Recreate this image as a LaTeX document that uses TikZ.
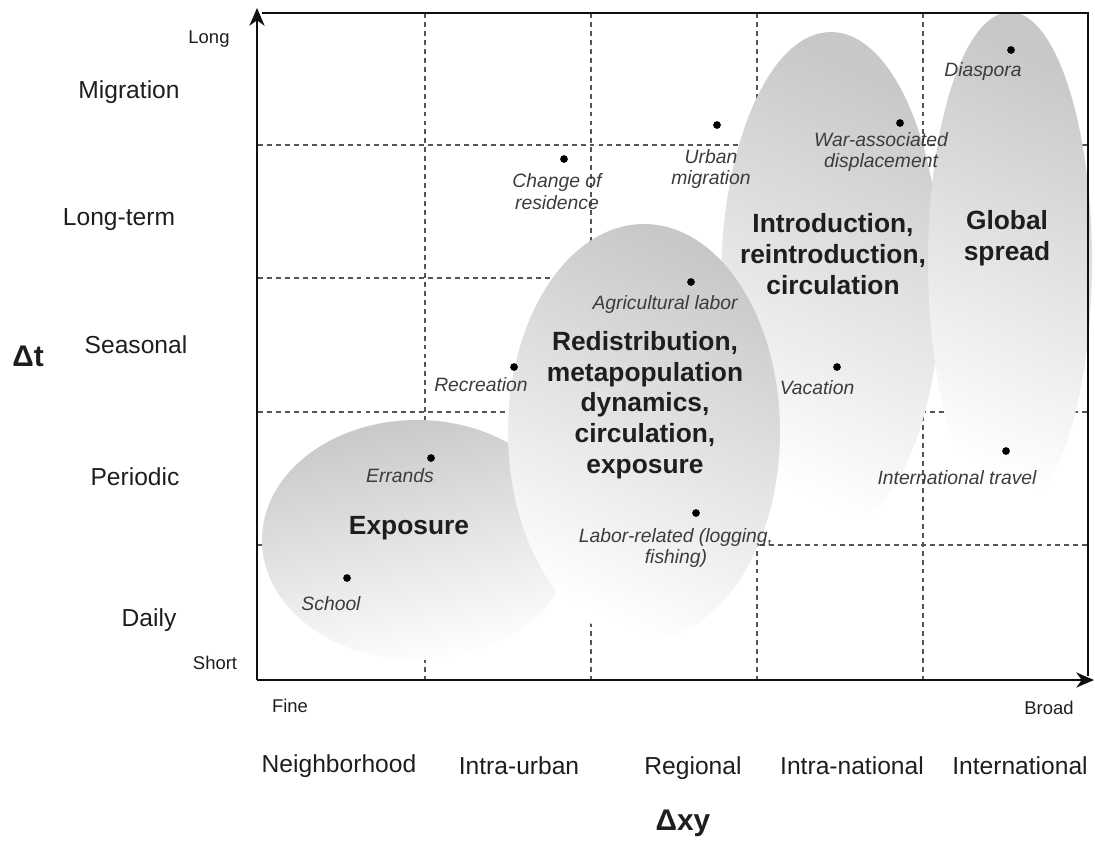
\documentclass[tikz,border=0pt]{standalone}
\usepackage{fontspec}
\setmainfont{Liberation Sans}
\usetikzlibrary{arrows.meta}
\definecolor{axisBlack}{RGB}{15,15,15}
\definecolor{gridGray}{RGB}{85,85,85}
\definecolor{blobGray}{RGB}{200,200,200}
\definecolor{blobMid}{RGB}{224,224,224}
\definecolor{tagGray}{RGB}{60,60,60}
\definecolor{textDark}{RGB}{30,30,30}

\begin{document}
\begin{tikzpicture}[x=0.02cm, y=0.02cm,
    blob/.style={shading=axis, top color=blobGray, middle color=blobMid, bottom color=white, shading angle=-25},
    spot/.style={circle, fill=black, inner sep=0pt, minimum size=4.4pt},
    tag/.style={font=\fontsize{11}{12.5}\selectfont\itshape, text=tagGray, align=center, inner sep=0pt},
    theme/.style={font=\fontsize{15}{17.5}\selectfont\bfseries, text=textDark, align=center, inner sep=0pt},
    scalelabel/.style={font=\fontsize{14}{16}\selectfont, text=textDark, inner sep=0pt},
    endlabel/.style={font=\fontsize{10.5}{12}\selectfont, text=textDark, inner sep=0pt},
    griddash/.style={gridGray, line width=0.8pt, dash pattern=on 2.8pt off 2.3pt},
    axisline/.style={axisBlack, line width=1.6pt, -{Stealth[length=10pt, width=8.5pt, inset=3pt]}}]
    \useasboundingbox (0,0) rectangle (1095,-840);

    % grid
    \foreach \gx in {425,591,757,923} \draw[griddash] (\gx,-13) -- (\gx,-680);
    \foreach \gy in {145,278,412,545} \draw[griddash] (258,-\gy) -- (1088,-\gy);

    % regions
    \path[blob] (831,-282) ellipse [x radius=110, y radius=250];
    \path[blob] (1010,-262) ellipse [x radius=82, y radius=250];
    \path[blob, shading angle=12] (417,-540) ellipse [x radius=155, y radius=120];
    \path[blob] (644,-432) ellipse [x radius=136, y radius=208];

    % frame and axes
    \coordinate (o) at (257,-680);
    \coordinate (ytop) at (257,-8);
    \coordinate (xend) at (1094,-680);
    \coordinate (tl) at (262,-13);
    \coordinate (tr) at (1088,-13);
    \coordinate (br) at (1088,-676);
    \draw[axisBlack, line width=1.1pt] (tl) -- (tr) -- (br);
    \draw[axisline] (o) -- (ytop);
    \draw[axisline] (o) -- (xend);

    % events
    \node[spot] (s1) at (564,-159) {};
    \node[tag] (t1) at (557,-192) {Change of\\residence};
    \node[spot] (s2) at (717,-125) {};
    \node[tag] (t2) at (711,-169) {Urban\\migration};
    \node[spot] (s3) at (900,-123) {};
    \node[tag] (t3) at (881,-152) {War-associated\\displacement};
    \node[spot] (s4) at (1011,-50) {};
    \node[tag] (t4) at (983,-71) {Diaspora};
    \node[spot] (s5) at (691,-282) {};
    \node[tag] (t5) at (665,-304) {Agricultural labor};
    \node[spot] (s6) at (514,-367) {};
    \node[tag] (t6) at (481,-385) {Recreation};
    \node[spot] (s7) at (837,-367) {};
    \node[tag] (t7) at (817,-388) {Vacation};
    \node[spot] (s8) at (431,-458) {};
    \node[tag] (t8) at (400,-476) {Errands};
    \node[spot] (s9) at (1006,-451) {};
    \node[tag] (t9) at (957,-478) {International travel};
    \node[spot] (s10) at (696,-513) {};
    \node[tag] (t10) at (676,-548) {Labor-related (logging,\\fishing)};
    \node[spot] (s11) at (347,-578) {};
    \node[tag] (t11) at (331,-604) {School};

    % themes
    \node[theme] (expo) at (409,-528) {Exposure};
    \node[theme] (redis) at (645,-405) {Redistribution,\\metapopulation\\dynamics,\\circulation,\\exposure};
    \node[theme] (intro) at (833,-254) {Introduction,\\reintroduction,\\circulation};
    \node[theme] (glob) at (1007,-238) {Global\\spread};

    % time scale
    \node[scalelabel] (migr) at (129,-92) {Migration};
    \node[scalelabel] (lterm) at (119,-220) {Long-term};
    \node[scalelabel] (seas) at (136,-345) {Seasonal};
    \node[scalelabel] (peri) at (135,-477) {Periodic};
    \node[scalelabel] (daily) at (149,-620) {Daily};
    \node[endlabel] (long) at (209,-39) {Long};
    \node[endlabel] (short) at (215,-663) {Short};
    \node[font=\fontsize{17}{19}\selectfont\bfseries, text=textDark, inner sep=0pt] (dt) at (28,-356) {Δt};

    % space scale
    \node[endlabel] (fine) at (290,-706) {Fine};
    \node[endlabel] (broad) at (1049,-708) {Broad};
    \node[scalelabel] (nbh) at (339,-766) {Neighborhood};
    \node[scalelabel] (iurb) at (519,-766) {Intra-urban};
    \node[scalelabel] (regi) at (693,-768) {Regional};
    \node[scalelabel] (inat) at (852,-766) {Intra-national};
    \node[scalelabel] (intl) at (1020,-766) {International};
    \node[font=\fontsize{17}{19}\selectfont\bfseries, text=textDark, inner sep=0pt] (dxy) at (683,-823) {Δxy};
\end{tikzpicture}
\end{document}
